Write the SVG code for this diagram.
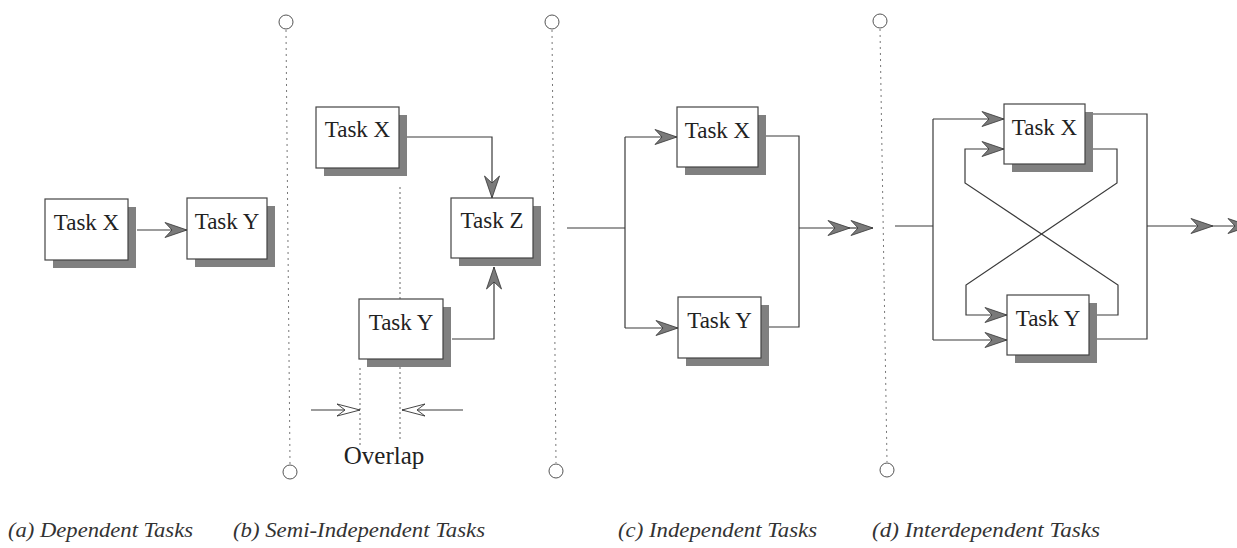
<svg xmlns="http://www.w3.org/2000/svg" width="1237" height="548" viewBox="0 0 1237 548">
  <defs>
    <style>
      .box { fill: #ffffff; stroke: #444; stroke-width: 1.2; }
      .shadow { fill: #808080; stroke: none; }
      .label { font-family: "Liberation Serif", "Times New Roman", serif; font-size: 23px; fill: #222; text-anchor: middle; }
      .caption { font-family: "Liberation Serif", "Times New Roman", serif; font-style: italic; font-size: 22px; fill: #333; }
      .wire { fill: none; stroke: #3a3a3a; stroke-width: 1.2; }
      .divider { fill: none; stroke: #777; stroke-width: 1; stroke-dasharray: 2 4; }
      .guide { fill: none; stroke: #666; stroke-width: 1; stroke-dasharray: 2 3; }
      .ring { fill: #fff; stroke: #555; stroke-width: 1; }
    </style>
    <marker id="head" markerUnits="userSpaceOnUse" markerWidth="26" markerHeight="18" refX="22" refY="7.5" orient="auto" overflow="visible">
      <path d="M0,0 L22,7.5 L0,15 L7,7.5 Z" fill="#7a7a7a" stroke="#333" stroke-width="0.8"/>
    </marker>
    <marker id="open" markerUnits="userSpaceOnUse" markerWidth="26" markerHeight="16" refX="23" refY="6.5" orient="auto" overflow="visible">
      <path d="M0,0.5 L23,6.5 L0,12.5 L8,6.5 Z" fill="#fff" stroke="#333" stroke-width="0.9"/>
    </marker>
  </defs>

  <!-- section dividers -->
  <g id="dividers">
    <circle class="ring" cx="286" cy="22" r="7"/>
    <line class="divider" x1="286" y1="30" x2="290" y2="464"/>
    <circle class="ring" cx="290" cy="472" r="7"/>
    <circle class="ring" cx="552" cy="22" r="7"/>
    <line class="divider" x1="552" y1="30" x2="556" y2="463"/>
    <circle class="ring" cx="556" cy="471" r="7"/>
    <circle class="ring" cx="880" cy="21" r="7"/>
    <line class="divider" x1="880" y1="29" x2="887" y2="462"/>
    <circle class="ring" cx="887" cy="470" r="7"/>
  </g>

  <!-- overlap guides in (b) -->
  <g id="overlap-guides">
    <line class="guide" x1="400" y1="187" x2="400" y2="442"/>
    <line class="guide" x1="360" y1="368" x2="360" y2="445"/>
  </g>

  <!-- connectors -->
  <g id="connectors">
    <!-- (a) -->
    <path class="wire" d="M137,230 H187" marker-end="url(#head)"/>
    <!-- (b) -->
    <path class="wire" d="M407,137 H492 V198" marker-end="url(#head)"/>
    <path class="wire" d="M452,339 H494 V267" marker-end="url(#head)"/>
    <path class="wire" d="M311,410 H360" marker-end="url(#open)"/>
    <path class="wire" d="M463,410 H402" marker-end="url(#open)"/>
    <!-- (c) -->
    <path class="wire" d="M567,228 H625"/>
    <path class="wire" d="M625,137 V328"/>
    <path class="wire" d="M625,137 H677" marker-end="url(#head)"/>
    <path class="wire" d="M625,328 H678" marker-end="url(#head)"/>
    <path class="wire" d="M766,136 H799 V327 H769"/>
    <path class="wire" d="M799,228 H850" marker-end="url(#head)"/>
    <path class="wire" d="M850,228 H873" marker-end="url(#head)"/>
    <!-- (d) -->
    <path class="wire" d="M895,226 H933"/>
    <path class="wire" d="M933,119 V340"/>
    <path class="wire" d="M933,119 H1004" marker-end="url(#head)"/>
    <path class="wire" d="M933,340 H1007" marker-end="url(#head)"/>
    <path class="wire" d="M1093,114 H1147 V339 H1097"/>
    <path class="wire" d="M1093,149 H1117 V183 L966,285 V315 H1007" marker-end="url(#head)"/>
    <path class="wire" d="M1097,315 H1118 V285 L965,183 V149 H1004" marker-end="url(#head)"/>
    <path class="wire" d="M1147,226 H1213" marker-end="url(#head)"/>
    <path class="wire" d="M1213,226 H1250" marker-end="url(#head)"/>
  </g>

  <!-- (a) dependent -->
  <g id="a-task-x">
    <rect class="shadow" x="53" y="207" width="83" height="61"/>
    <rect class="box" x="45" y="199" width="83" height="61"/>
    <text class="label" x="86.5" y="230">Task X</text>
  </g>
  <g id="a-task-y">
    <rect class="shadow" x="195" y="206" width="80" height="61"/>
    <rect class="box" x="187" y="198" width="80" height="61"/>
    <text class="label" x="227" y="229">Task Y</text>
  </g>

  <!-- (b) semi-independent -->
  <g id="b-task-x">
    <rect class="shadow" x="324" y="115" width="83" height="61"/>
    <rect class="box" x="316" y="107" width="83" height="61"/>
    <text class="label" x="357.5" y="137">Task X</text>
  </g>
  <g id="b-task-z">
    <rect class="shadow" x="459" y="206" width="82" height="60"/>
    <rect class="box" x="451" y="198" width="82" height="60"/>
    <text class="label" x="492" y="228">Task Z</text>
  </g>
  <g id="b-task-y">
    <rect class="shadow" x="367" y="307" width="84" height="60"/>
    <rect class="box" x="359" y="299" width="84" height="60"/>
    <text class="label" x="401" y="330">Task Y</text>
  </g>
  <text x="384" y="464" font-family="Liberation Serif, Times New Roman, serif" font-size="25" fill="#222" text-anchor="middle">Overlap</text>

  <!-- (c) independent -->
  <g id="c-task-x">
    <rect class="shadow" x="685" y="115" width="81" height="60"/>
    <rect class="box" x="677" y="107" width="81" height="60"/>
    <text class="label" x="717.5" y="138">Task X</text>
  </g>
  <g id="c-task-y">
    <rect class="shadow" x="686" y="305" width="83" height="61"/>
    <rect class="box" x="678" y="297" width="83" height="61"/>
    <text class="label" x="719.5" y="328">Task Y</text>
  </g>

  <!-- (d) interdependent -->
  <g id="d-task-x">
    <rect class="shadow" x="1012" y="112" width="81" height="60"/>
    <rect class="box" x="1004" y="104" width="81" height="60"/>
    <text class="label" x="1044.5" y="135">Task X</text>
  </g>
  <g id="d-task-y">
    <rect class="shadow" x="1015" y="303" width="82" height="60"/>
    <rect class="box" x="1007" y="295" width="82" height="60"/>
    <text class="label" x="1048" y="326">Task Y</text>
  </g>

  <!-- captions -->
  <g id="captions">
    <text class="caption" x="8" y="537" textLength="185" lengthAdjust="spacingAndGlyphs">(a) Dependent Tasks</text>
    <text class="caption" x="233" y="537" textLength="252" lengthAdjust="spacingAndGlyphs">(b) Semi-Independent Tasks</text>
    <text class="caption" x="618" y="537" textLength="199" lengthAdjust="spacingAndGlyphs">(c) Independent Tasks</text>
    <text class="caption" x="872" y="537" textLength="228" lengthAdjust="spacingAndGlyphs">(d) Interdependent Tasks</text>
  </g>
</svg>
